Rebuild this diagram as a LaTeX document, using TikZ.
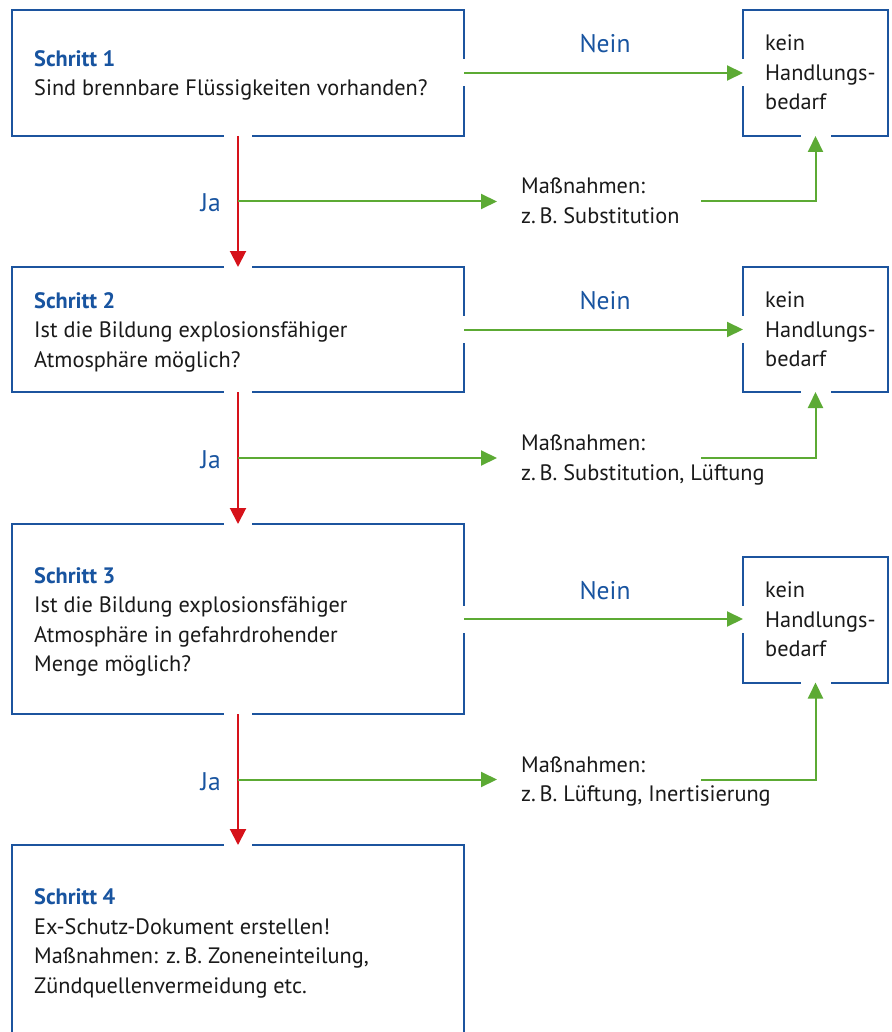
\documentclass[tikz,border=0pt]{standalone}
\usepackage{fontspec}
\setmainfont{PT Sans}
\usetikzlibrary{arrows.meta,calc}
\definecolor{dblue}{RGB}{28,84,158}
\definecolor{tblue}{RGB}{24,84,160}
\definecolor{agreen}{RGB}{92,170,52}
\definecolor{ared}{RGB}{214,18,26}
\definecolor{txt}{RGB}{26,26,26}
\begin{document}
\begin{tikzpicture}[x=1pt,y=-1pt,
  box/.style={draw=dblue,line width=2pt,inner sep=0pt,outer sep=0pt,anchor=north west},
  bigbox/.style={box,minimum width=452pt},
  smallbox/.style={box,minimum width=145pt,minimum height=126pt},
  body/.style={anchor=base west,inner sep=0pt,align=left,text=txt,font=\fontsize{22.3}{29.5}\selectfont},
  lbl/.style={inner sep=0pt,text=tblue,font=\fontsize{25.5}{30}\selectfont},
  gap/.style={fill=white},
  yes/.style={draw=ared,line width=2pt,-{Triangle[length=16pt,width=16pt]}},
  no/.style={draw=agreen,line width=2pt,-{Triangle[length=16pt,width=15pt]}},
  back/.style={draw=agreen,line width=2pt}
]
\clip (0,0) rectangle (891,1032);
\fill[white] (0,0) rectangle (891,1032);
% step boxes
\node[bigbox,minimum height=126pt] (s1) at (12,10) {};
\node[bigbox,minimum height=125pt] (s2) at (12,267) {};
\node[bigbox,minimum height=190pt] (s3) at (12,524) {};
\node[bigbox,minimum height=200pt] (s4) at (12,845) {};
\node[smallbox] (r1) at (743,10) {};
\node[smallbox,minimum height=125pt] (r2) at (743,267) {};
\node[smallbox] (r3) at (743,556.5) {};
% gaps in borders
\foreach \b in {s1,s2,s3}{
  \fill[gap] ($(\b.east)+(-3,-13.5)$) rectangle ($(\b.east)+(3,13.5)$);
  \fill[gap] ($(\b.south)+(-14,-3)$) rectangle ($(\b.south)+(14,3)$);
}
\foreach \b in {s2,s3,s4}{
  \fill[gap] ($(\b.north)+(-14,-3)$) rectangle ($(\b.north)+(14,3)$);
}
\foreach \b in {r1,r2,r3}{
  \fill[gap] ($(\b.west)+(-3,-13.5)$) rectangle ($(\b.west)+(3,13.5)$);
  \fill[gap] ($(\b.south)+(-15,-3)$) rectangle ($(\b.south)+(15,3)$);
}
% texts in step boxes (anchored at the baseline of the last line)
\node[body] (t1) at (34,96) {\textcolor{tblue}{\textbf{Schritt 1}}\\Sind brennbare Flüssigkeiten vorhanden?};
\node[body] (t2) at (34,367) {\textcolor{tblue}{\textbf{Schritt 2}}\\Ist die Bildung explosionsfähiger\\Atmosphäre möglich?};
\node[body] (t3) at (34,671.5) {\textcolor{tblue}{\textbf{Schritt 3}}\\Ist die Bildung explosionsfähiger\\Atmosphäre in gefahrdrohender\\Menge möglich?};
\node[body] (t4) at (34,993) {\textcolor{tblue}{\textbf{Schritt 4}}\\Ex-Schutz-Dokument erstellen!\\Maßnahmen: z.\,B. Zoneneinteilung,\\Zündquellenvermeidung etc.};
% texts in result boxes
\node[body] (k1) at ($(r1.west)+(22,37)$) {kein\\Handlungs-\\bedarf};
\node[body] (k2) at ($(r2.west)+(22,37)$) {kein\\Handlungs-\\bedarf};
\node[body] (k3) at ($(r3.west)+(22,37)$) {kein\\Handlungs-\\bedarf};
% Nein arrows
\draw[no] (s1.east) -- (r1.west);
\draw[no] (s2.east) -- (r2.west);
\draw[no] (s3.east) -- (s3.east -| r3.west);
\node[lbl,anchor=base] (n1) at ($($(s1.east)!0.5!(r1.west)$)+(1.5,-20)$) {Nein};
\node[lbl,anchor=base] (n2) at ($($(s2.east)!0.5!(r2.west)$)+(1.5,-20)$) {Nein};
\node[lbl,anchor=base] (n3) at ($($(s3.east)!0.5!(r3.west)$)+(1.5,-20)$) {Nein};
% Ja arrows
\draw[yes] (s1.south) -- (s2.north);
\draw[yes] (s2.south) -- (s3.north);
\draw[yes] (s3.south) -- (s4.north);
\coordinate (b1) at ($(s1.south)!0.5!(s2.north)$);
\coordinate (b2) at ($(s2.south)!0.5!(s3.north)$);
\coordinate (b3) at ($(s3.south)!0.5!(s4.north)$);
\node[lbl,anchor=base east] (j1) at ($(b1)+(-17,10.5)$) {Ja};
\node[lbl,anchor=base east] (j2) at ($(b2)+(-17,10.5)$) {Ja};
\node[lbl,anchor=base east] (j3) at ($(b3)+(-17,10.5)$) {Ja};
% measures
\foreach \i/\txt in {1/{z.\,B. Substitution},2/{z.\,B. Substitution, Lüftung},3/{z.\,B. Lüftung, Inertisierung}}{
  \coordinate (m\i in) at ($(b\i)+(259,0)$);
  \coordinate (m\i out) at ($(b\i)+(463,0)$);
  \node[body] (m\i) at ($(b\i)+(283,22)$) {Maßnahmen:\\\txt};
  \draw[no] (b\i) -- (m\i in);
  \draw[back,-{Triangle[length=16pt,width=15pt]}] (m\i out) -| (r\i.south);
}
\end{tikzpicture}
\end{document}
